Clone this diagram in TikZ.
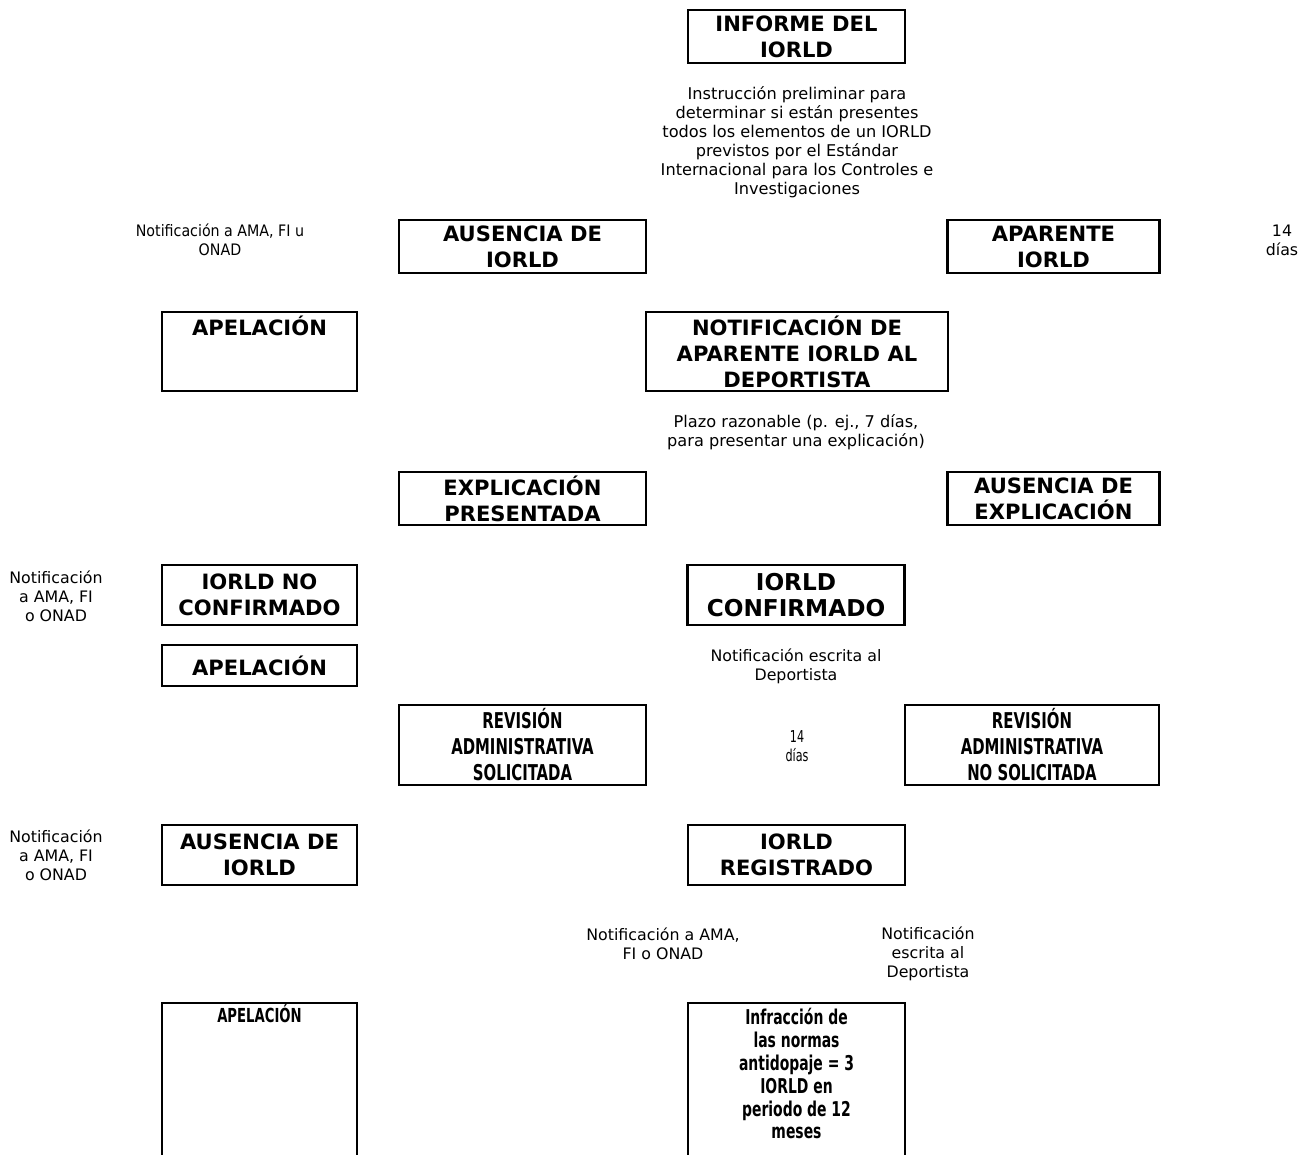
\documentclass[tikz,border=0pt]{standalone}
\usepackage{fontspec}
\setmainfont{DejaVu Sans}
\newfontfamily\condfont{DejaVu Sans Condensed}
\newfontfamily\narrowfont{DejaVu Sans Condensed}[FakeStretch=0.76]
\begin{document}
\begin{tikzpicture}[x=0.02cm,y=-0.02cm,
    box/.style={draw, line width=1.5pt, inner sep=0pt, outer sep=0pt, align=center,
      font=\bfseries\fontsize{12}{14.8}\selectfont},
    bigbox/.style={box, font=\bfseries\fontsize{13.2}{14.8}\selectfont},
    narrowbox/.style={box, font=\narrowfont\bfseries\fontsize{12.4}{14.8}\selectfont},
    title/.style={inner sep=0pt, align=center, anchor=base,
      font=\bfseries\fontsize{12}{14.8}\selectfont},
    narrowtitle/.style={inner sep=0pt, align=center,
      font=\narrowfont\bfseries\fontsize{11}{13}\selectfont},
    note/.style={inner sep=0pt, align=center, font=\fontsize{9}{10.8}\selectfont},
    condnote/.style={note, font=\condfont\fontsize{9}{10.8}\selectfont},
    narrownote/.style={note, font=\narrowfont\fontsize{9.3}{10.8}\selectfont}]
  \useasboundingbox (0,0) rectangle (1301,1155);

  % first row
  \node[box, minimum width=4.34cm, minimum height=1.06cm] (informe) at (796.5,36.5) {INFORME DEL\\IORLD};
  \node[note, font=\fontsize{9.2}{10.8}\selectfont] (instruccion) at (797,142) {Instrucción preliminar para\\determinar si están presentes\\todos los elementos de un IORLD\\previstos por el Estándar\\Internacional para los Controles e\\Investigaciones};

  \node[condnote] (notifA) at (220,240) {Notificación a AMA, FI u\\ONAD};
  \node[box, minimum width=4.94cm, minimum height=1.06cm] (ausencia) at (522.5,246.5) {AUSENCIA DE\\IORLD};
  \node[box, minimum width=4.24cm, minimum height=1.06cm] (aparente) at (1053.5,246.5) {APARENTE\\IORLD};
  \node[note] (diasA) at (1282,240) {14\\días};

  % notification to athlete
  \node[box, minimum width=3.9cm, minimum height=1.58cm] (apelA) at (259.5,351.5) {};
  \node[title] (apelAt) at (259.5,335.5) {APELACIÓN};
  \node[box, minimum width=6.04cm, minimum height=1.58cm] (notifdep) at (797,351.5) {NOTIFICACIÓN DE\\APARENTE IORLD AL\\DEPORTISTA};
  \node[note, font=\fontsize{9.2}{10.8}\selectfont] (plazo) at (796,432) {Plazo razonable (p. ej., 7 días,\\para presentar una explicación)};

  \node[box, minimum width=4.94cm, minimum height=1.06cm] (explic) at (522.5,498.5) {EXPLICACIÓN\\PRESENTADA};
  \node[box, minimum width=4.24cm, minimum height=1.06cm] (ausexpl) at (1053.5,498.5) {AUSENCIA DE\\EXPLICACIÓN};

  % confirmed or not
  \node[note] (notifB) at (56,596) {Notificación\\a AMA, FI\\o ONAD};
  \node[box, minimum width=3.9cm, minimum height=1.2cm] (noconf) at (259.5,595) {IORLD NO\\CONFIRMADO};
  \node[bigbox, minimum width=4.34cm, minimum height=1.2cm] (confirm) at (796,595) {IORLD\\CONFIRMADO};
  \node[box, minimum width=3.9cm, minimum height=0.82cm] (apelB) at (259.5,665.5) {APELACIÓN};
  \node[note] (escritaA) at (796,666) {Notificación escrita al\\Deportista};

  % administrative review
  \node[narrowbox, minimum width=4.94cm, minimum height=1.6cm] (revsol) at (522.5,745) {REVISIÓN\\ADMINISTRATIVA\\SOLICITADA};
  \node[narrownote] (diasB) at (797,746) {14\\días};
  \node[narrowbox, minimum width=5.08cm, minimum height=1.6cm] (revnosol) at (1032,745) {REVISIÓN\\ADMINISTRATIVA\\NO SOLICITADA};

  \node[note] (notifC) at (56,855) {Notificación\\a AMA, FI\\o ONAD};
  \node[box, minimum width=3.9cm, minimum height=1.2cm] (ausiorld) at (259.5,855) {AUSENCIA DE\\IORLD};
  \node[box, minimum width=4.34cm, minimum height=1.2cm] (registro) at (796.5,855) {IORLD\\REGISTRADO};

  \node[note] (notifD) at (663,944) {Notificación a AMA,\\FI o ONAD};
  \node[note] (escritaB) at (928,954) {Notificación\\escrita al\\Deportista};

  % last row, cut by the page
  \node[box, minimum width=3.9cm, minimum height=3.44cm] (apelC) at (259.5,1089) {};
  \node[narrowtitle, anchor=base] (apelCt) at (259.5,1022) {APELACIÓN};
  \node[box, minimum width=4.34cm, minimum height=3.44cm] (infraccion) at (796.5,1089) {};
  \node[narrowtitle, anchor=north, font=\narrowfont\bfseries\fontsize{11.6}{13}\selectfont] (infrt) at (796.5,1008) {Infracción de\\las normas\\antidopaje = 3\\IORLD en\\periodo de 12\\meses};
\end{tikzpicture}
\end{document}
